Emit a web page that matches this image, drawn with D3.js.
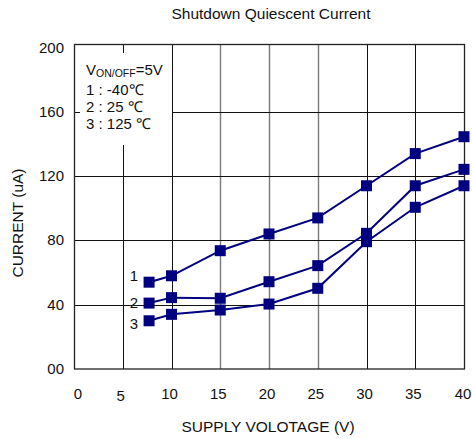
<!DOCTYPE html>
<html><head><meta charset="utf-8">
<script src="https://cdn.jsdelivr.net/npm/d3@7"></script>
<style>
html,body{margin:0;padding:0;background:#fff;}
text{font-family:"Liberation Sans",Arial,sans-serif;fill:#111;}
</style></head>
<body><svg id="c" width="472" height="439"></svg>
<script>
const voltages = [7.7, 10, 15, 20, 25, 30, 35, 40];
const series1 = [54, 58, 73.6, 84, 94, 114, 134, 144.5];   // -40 C
const series2 = [41, 44.4, 44, 54.3, 64.3, 84.4, 114, 124.2]; // 25 C
const series3 = [30, 34, 36.7, 40.4, 50.2, 79.2, 100.6, 114]; // 125 C
const seriesNames = ["1", "2", "3"];
const xTicks = [0, 5, 10, 15, 20, 25, 30, 35, 40];
const xTickLabels = ["0", "5", "10", "15", "20", "25", "30", "35", "40"];
const yTicks = [0, 40, 80, 120, 160, 200];
const yTickLabels = ["00", "40", "80", "120", "160", "200"];
const legendLines = ["1 : -40\u2103", "2 : 25 \u2103", "3 : 125 \u2103"];

const svg = d3.select("#c");
const x = d3.scaleLinear().domain([0, 40]).range([74, 464]);
const y = d3.scaleLinear().domain([0, 200]).range([369, 47.5]);
const navy = "#000080";

// title
svg.append("text").attr("x", 271).attr("y", 19).attr("text-anchor", "middle")
  .style("font-size", "15.5px").text("Shutdown Quiescent Current");

// grid
const g = svg.append("g");
const grayV = [15, 20, 25];
g.selectAll("line.v").data(xTicks.filter(d => d > 0 && d < 40)).enter().append("line")
  .attr("x1", d => Math.round(x(d)) + 0.5).attr("x2", d => Math.round(x(d)) + 0.5)
  .attr("y1", 44).attr("y2", 369)
  .attr("stroke", d => grayV.includes(d) ? "#7a7a7a" : "#111")
  .attr("stroke-width", d => grayV.includes(d) ? 1.4 : 1);
g.selectAll("line.h").data(yTicks.filter(d => d > 0 && d < 200)).enter().append("line")
  .attr("x1", 74).attr("x2", 464)
  .attr("y1", d => Math.round(y(d)) + 0.5).attr("y2", d => Math.round(y(d)) + 0.5)
  .attr("stroke", "#111").attr("stroke-width", 1);

// legend box (white, hides grid)
svg.append("rect").attr("x", 75).attr("y", 53).attr("width", 97).attr("height", 92).attr("fill", "#fff");
svg.append("line").attr("x1", 74).attr("x2", 80)
  .attr("y1", Math.round(y(160)) + 0.5).attr("y2", Math.round(y(160)) + 0.5)
  .attr("stroke", "#111");

// frame
svg.append("rect").attr("x", 74.5).attr("y", 44.5).attr("width", 390).attr("height", 324.5)
  .attr("fill", "none").attr("stroke", "#222").attr("stroke-width", 1.3);

// y tick labels
svg.selectAll("text.yt").data(yTicks).enter().append("text")
  .attr("x", 64).attr("y", (d, i) => y(d) + 5).attr("text-anchor", "end")
  .style("font-size", "15px").text((d, i) => yTickLabels[i]);

// x tick labels
svg.selectAll("text.xt").data(xTicks).enter().append("text")
  .attr("x", (d, i) => x(d) + (i === 0 ? 4 : (i === 8 ? -1 : -2)))
  .attr("y", (d, i) => xTickLabels[i] === "5" ? 401 : 398.5)
  .attr("text-anchor", "middle")
  .style("font-size", "15px").text((d, i) => xTickLabels[i]);

// axis titles
svg.append("text").attr("x", 268).attr("y", 432).attr("text-anchor", "middle")
  .style("font-size", "15.5px").text("SUPPLY VOLOTAGE (V)");
svg.append("text").attr("transform", "translate(23,223) rotate(-90)").attr("text-anchor", "middle")
  .style("font-size", "15.5px").text("CURRENT (uA)");

// legend text
const lt = svg.append("text").attr("x", 86).attr("y", 75).style("font-size", "15px");
lt.append("tspan").text("V");
lt.append("tspan").attr("dy", 2).style("font-size", "10.5px").text("ON/OFF");
lt.append("tspan").attr("dy", -2).text("=5V");
svg.selectAll("text.lg").data(legendLines).enter().append("text")
  .attr("x", 86).attr("y", (d, i) => 95 + i * 17).style("font-size", "15px").text(d => d);

// series
const all = [series1, series2, series3];
const line = d3.line().x((d, i) => x(voltages[i])).y(d => y(d));
all.forEach((s, k) => {
  svg.append("path").datum(s).attr("d", line).attr("fill", "none")
    .attr("stroke", navy).attr("stroke-width", 2);
  svg.selectAll("rect.m" + k).data(s).enter().append("rect")
    .attr("x", (d, i) => x(voltages[i]) - 5.5).attr("y", d => y(d) - 5.5)
    .attr("width", 11).attr("height", 11).attr("fill", navy);
  svg.append("text").attr("x", 134).attr("y", y(s[0]) + 5 - (k === 0 ? 6 : 0) + (k === 2 ? 3 : 0))
    .attr("text-anchor", "middle").style("font-size", "15px").text(seriesNames[k]);
});
</script></body></html>
